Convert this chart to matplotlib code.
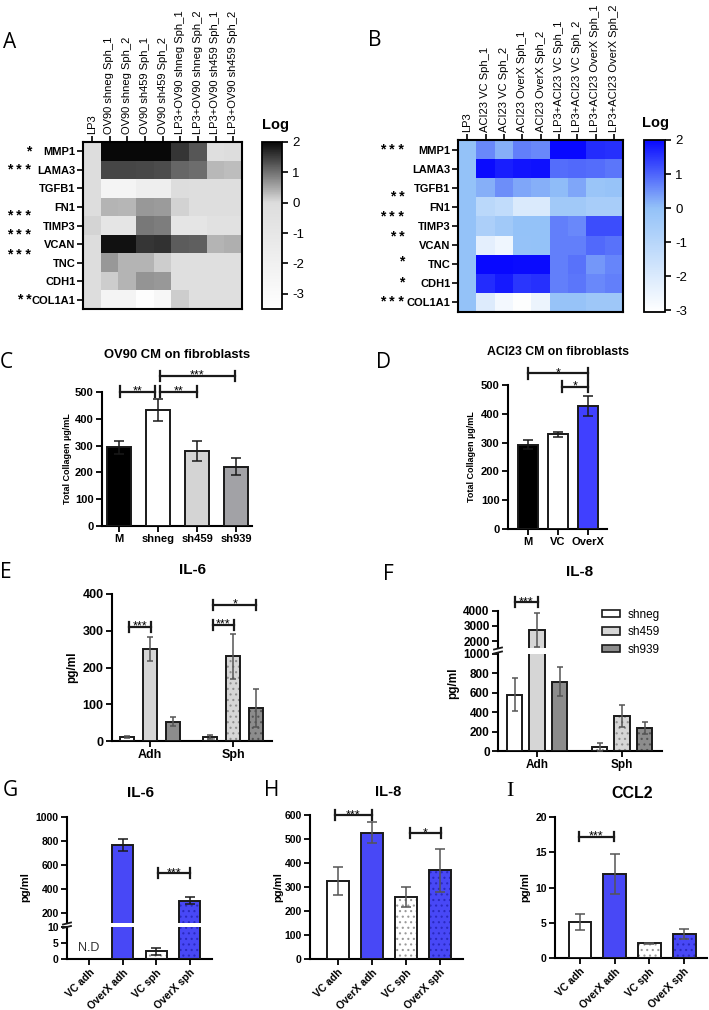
import numpy as np
import matplotlib
matplotlib.use("Agg")
import matplotlib.pyplot as plt
from matplotlib.colors import LinearSegmentedColormap
from matplotlib.patches import Patch
from matplotlib.lines import Line2D
from matplotlib.transforms import blended_transform_factory

plt.rcParams['font.family'] = ['Liberation Sans', 'DejaVu Sans']
plt.rcParams['font.weight'] = 'bold'
plt.rcParams['axes.unicode_minus'] = False
plt.rcParams['hatch.linewidth'] = 0.8

# ---------------- data ----------------
genes = ['MMP1', 'LAMA3', 'TGFB1', 'FN1', 'TIMP3', 'VCAN', 'TNC', 'CDH1', 'COL1A1']

cols_a = ['LP3', 'OV90 shneg Sph_1', 'OV90 shneg Sph_2', 'OV90 sh459 Sph_1', 'OV90 sh459 Sph_2',
          'LP3+OV90 shneg Sph_1', 'LP3+OV90 shneg Sph_2', 'LP3+OV90 sh459 Sph_1', 'LP3+OV90 sh459 Sph_2']
heat_a = [
    [0.0, 2.0, 2.0, 2.0, 2.0, 1.55, 1.25, -0.3, -0.1],
    [0.0, 1.4, 1.4, 1.38, 1.35, 1.1, 1.05, 0.33, 0.3],
    [0.0, -2.4, -2.4, -1.8, -1.8, -0.1, -0.2, -0.2, -0.2],
    [0.0, 0.38, 0.35, 0.63, 0.62, 0.1, -0.2, -0.2, -0.2],
    [0.07, -0.9, -0.9, 0.94, 0.9, -0.9, -0.9, -0.5, -0.5],
    [0.0, 1.9, 1.9, 1.55, 1.6, 1.2, 1.18, 0.38, 0.43],
    [0.0, 0.63, 0.38, 0.38, 0.14, -0.3, -0.3, -0.3, -0.3],
    [0.0, 0.14, 0.38, 0.67, 0.63, -0.3, -0.3, -0.3, -0.3],
    [0.0, -2.4, -2.4, -3.3, -2.7, 0.15, -0.3, -0.3, -0.3],
]
stars_a = [(0, '*'), (1, '* * *'), (3.5, '* * *'), (4.5, '* * *'), (5.6, '* * *'), (8, '* *')]

cols_b = ['LP3', 'ACI23 VC Sph_1', 'ACI23 VC Sph_2', 'ACI23 OverX Sph_1', 'ACI23 OverX Sph_2',
          'LP3+ACI23 VC Sph_1', 'LP3+ACI23 VC Sph_2', 'LP3+ACI23 OverX Sph_1', 'LP3+ACI23 OverX Sph_2']
heat_b = [
    [0.0, 0.6, 0.2, 0.7, 0.6, 2.0, 2.0, 1.6, 1.55],
    [0.0, 1.95, 1.75, 1.85, 1.9, 0.9, 0.95, 0.9, 0.8],
    [0.0, 0.2, 0.55, 0.3, 0.2, 0.05, 0.3, -0.2, -0.1],
    [0.0, -1.1, -1.3, -2.0, -2.0, -0.4, -0.4, -0.6, -0.6],
    [0.0, -0.7, -0.4, 0.0, 0.0, 0.7, 0.6, 1.25, 1.25],
    [0.0, -2.3, -2.6, -0.05, 0.0, 0.7, 0.7, 0.95, 0.85],
    [0.0, 2.0, 2.0, 1.95, 1.95, 0.7, 0.85, 0.45, 0.65],
    [0.0, 1.6, 1.8, 1.5, 1.55, 0.7, 0.8, 0.6, 0.7],
    [0.0, -2.1, -2.7, -3.0, -2.5, -0.1, -0.1, -0.3, -0.3],
]
stars_b = [(0, '* * *'), (2.5, '* *'), (3.55, '* * *'), (4.6, '* *'), (5.85, '*'), (6.95, '*'), (8, '* * *')]

c_groups = ['M', 'shneg', 'sh459', 'sh939']
c_vals = [293, 433, 281, 221]
c_err = [25, 42, 37, 32]

d_groups = ['M', 'VC', 'OverX']
d_vals = [293, 329, 427]
d_err = [16, 8, 34]

ef_groups = ['Adh', 'Sph']
ef_series = ['shneg', 'sh459', 'sh939']
e_vals = [[11, 11], [250, 230], [53, 90]]
e_err = [[3, 5], [33, 62], [13, 52]]
f_vals = [[580, 40], [2750, 360], [715, 240]]
f_err = [[170, 40], [1100, 110], [150, 60]]

ghi_groups = ['VC adh', 'OverX adh', 'VC sph', 'OverX sph']
g_vals = [np.nan, 765, 2.5, 300]
g_err = [0, 50, 1.1, 33]
h_vals = [325, 527, 258, 370]
h_err = [60, 43, 43, 90]
i_vals = [5.1, 11.9, 2.1, 3.4]
i_err = [1.1, 2.85, 0.05, 0.7]

# ---------------- figure ----------------
W, H = 709, 1010
fig = plt.figure(figsize=(W / 100, H / 100), dpi=100)
EDGE = '#1a1a1a'
BLUE = '#4848f6'


def pax(l, t, r, b):
    return fig.add_axes([l / W, 1 - b / H, (r - l) / W, (b - t) / H])


def ftext(x, y, s, **kw):
    fig.text(x / W, 1 - y / H, s, **kw)


def heatmap(ax, cax, data, cols, cmap, vmin, vmax, stars):
    im = ax.imshow(np.array(data), cmap=cmap, vmin=vmin, vmax=vmax, aspect='auto',
                   interpolation='nearest')
    ax.xaxis.tick_top()
    ax.set_xticks(range(len(cols)))
    ax.set_xticklabels(cols, rotation=90, fontsize=8, fontweight='normal')
    ax.set_yticks(range(len(genes)))
    ax.set_yticklabels(genes, fontsize=8)
    ax.tick_params(length=4, width=1.2, pad=1.5)
    for s in ax.spines.values():
        s.set_linewidth(1.5)
    tr = blended_transform_factory(ax.transAxes, ax.transData)
    for row, st in stars:
        ax.text(-0.325, row, st, transform=tr, ha='right', va='center', fontsize=10)
    cb = fig.colorbar(im, cax=cax)
    cb.outline.set_linewidth(1.3)
    cax.set_yticks(range(-3, 3))
    cax.set_yticklabels([str(v) for v in range(-3, 3)], fontsize=9.5, fontweight='normal')
    cax.tick_params(length=4, width=1.2)


def style(ax, size):
    ax.spines['top'].set_visible(False)
    ax.spines['right'].set_visible(False)
    for s in ['left', 'bottom']:
        ax.spines[s].set_linewidth(1.5)
    ax.tick_params(length=4, width=1.3, labelsize=size, pad=2)


def bars(ax, xs, vals, errs, fcs, hatched, hcols, w, ecol, cap):
    for x, v, fc, h, hc in zip(xs, vals, fcs, hatched, hcols):
        if np.isnan(v):
            continue
        if h:
            ax.bar(x, v, w, color=fc, edgecolor=hc, hatch='...', linewidth=0, zorder=2)
            ax.bar(x, v, w, fill=False, edgecolor=EDGE, linewidth=1.4, zorder=3)
        else:
            ax.bar(x, v, w, color=fc, edgecolor=EDGE, linewidth=1.4, zorder=3)
    ok = [i for i, v in enumerate(vals) if not np.isnan(v)]
    ax.errorbar([xs[i] for i in ok], [vals[i] for i in ok], yerr=[errs[i] for i in ok],
                fmt='none', ecolor=ecol, elinewidth=1.1, capsize=cap, capthick=1.1, zorder=4)


def bracket(ax, x1, x2, y, d, txt, size=9):
    ax.plot([x1, x2], [y, y], color=EDGE, lw=1.6, clip_on=False, zorder=5)
    for x in (x1, x2):
        ax.plot([x, x], [y - d, y + d], color=EDGE, lw=1.6, clip_on=False, zorder=5)
    ax.text((x1 + x2) / 2, y, txt, ha='center', va='center', fontsize=size,
            fontweight='normal', clip_on=False)


def break_marks(x, y1, y2):
    for y in (y1, y2):
        fig.add_artist(Line2D([(x - 4) / W, (x + 4) / W], [1 - (y + 1) / H, 1 - (y - 1) / H],
                              transform=fig.transFigure, color=EDGE, lw=1.3))


# ---- A ----
cmap_a = LinearSegmentedColormap.from_list('ga', [(0, 'white'), (3.5 / 5.5, '#dddddd'), (1, '#080808')])
axA = pax(83, 142, 242, 309)
caxA = pax(262, 142, 282, 309)
heatmap(axA, caxA, heat_a, cols_a, cmap_a, -3.5, 2, stars_a)
ftext(262, 125, 'Log', fontsize=10.5, va='center')

# ---- B ----
cmap_b = LinearSegmentedColormap.from_list('gb', [(0, 'white'), (3.05 / 5.05, '#94c2f8'), (1, '#0808ff')])
axB = pax(458, 140, 623, 312)
caxB = pax(644, 140, 665, 312)
heatmap(axB, caxB, heat_b, cols_b, cmap_b, -3.05, 2, stars_b)
ftext(642, 123, 'Log', fontsize=10.5, va='center')

# ---- C ----
axC = pax(102, 392, 252, 526)
xc = np.arange(len(c_groups))
bars(axC, xc, c_vals, c_err, ['black', 'white', '#d4d4d4', '#a2a2a6'], [False] * 4,
     [None] * 4, 0.62, EDGE, 3.5)
axC.set_xlim(-0.44, 3.41)
axC.set_ylim(0, 500)
axC.set_yticks(range(0, 501, 100))
axC.set_xticks(xc)
axC.set_xticklabels(c_groups)
style(axC, 8)
bracket(axC, 0.03, 0.92, 501, 20, '**')
bracket(axC, 1.05, 2.0, 501, 20, '**')
bracket(axC, 1.05, 2.97, 560, 20, '***')
ftext(177, 355, 'OV90 CM on fibroblasts', fontsize=9.4, ha='center', va='center')
ftext(68, 459, 'Total Collagen µg/mL', fontsize=6.5, rotation=90, ha='center', va='center')

# ---- D ----
axD = pax(508, 385, 607, 529)
xd = np.arange(len(d_groups))
bars(axD, xd, d_vals, d_err, ['black', 'white', '#4040ff'], [False] * 3, [None] * 3, 0.66, EDGE, 3.5)
axD.set_xlim(-0.67, 2.63)
axD.set_ylim(0, 500)
axD.set_yticks(range(0, 501, 100))
axD.set_xticks(xd)
axD.set_xticklabels(d_groups)
style(axD, 8)
bracket(axD, 0, 2, 540, 20, '*')
bracket(axD, 1.13, 2, 494, 20, '*')
ftext(558, 352, 'ACI23 CM on fibroblasts', fontsize=8.8, ha='center', va='center')
ftext(472, 457, 'Total Collagen µg/mL', fontsize=6.5, rotation=90, ha='center', va='center')

# ---- E ----
grey_fc = ['white', '#d6d6d6', '#8c8c8c']
grey_hc = ['#9a9a9a', '#909090', '#555555']
off = [-0.277, 0, 0.277]
axE = pax(112, 594, 272, 741)
for k in range(3):
    xs = [g + off[k] for g in range(2)]
    bars(axE, xs, e_vals[k], e_err[k], [grey_fc[k]] * 2, [False, True], [grey_hc[k]] * 2,
         0.17, '#555555', 2.5)
axE.set_xlim(-0.46, 1.47)
axE.set_ylim(0, 400)
axE.set_yticks(range(0, 401, 100))
axE.set_xticks(range(2))
axE.set_xticklabels(ef_groups)
style(axE, 9)
bracket(axE, -0.25, 0.01, 311, 14, '***')
bracket(axE, 0.76, 1.01, 316, 14, '***')
bracket(axE, 0.76, 1.28, 371, 14, '*')
ftext(192, 570, 'IL-6', fontsize=11, ha='center', va='center')
ftext(72, 667, 'pg/ml', fontsize=8.5, rotation=90, ha='center', va='center')

# ---- F (broken axis) ----
axFu = pax(498, 610.7, 662, 648)
axFl = pax(498, 654, 662, 751)
off_f = [-0.265, 0, 0.265]
for ax in (axFu, axFl):
    for k in range(3):
        xs = [g + off_f[k] for g in range(2)]
        bars(ax, xs, f_vals[k], f_err[k], [grey_fc[k]] * 2, [False, True], [grey_hc[k]] * 2,
             0.18, '#555555', 2.5)
    ax.set_xlim(-0.46, 1.47)
axFl.set_ylim(0, 1000)
axFl.set_yticks(range(0, 1001, 200))
axFl.set_xticks(range(2))
axFl.set_xticklabels(ef_groups)
style(axFl, 8.5)
axFu.set_ylim(1560, 4000)
axFu.set_yticks([2000, 3000, 4000])
style(axFu, 8.5)
axFu.spines['bottom'].set_visible(False)
axFu.set_xticks([])
break_marks(498, 648.5, 652.5)
bracket(axFu, -0.26, 0.01, 4570, 330, '***')
ftext(580, 572, 'IL-8', fontsize=11, ha='center', va='center')
ftext(453, 683, 'pg/ml', fontsize=8.5, rotation=90, ha='center', va='center')
handles = [Patch(facecolor=c, edgecolor=EDGE, linewidth=1.2) for c in grey_fc]
fig.legend(handles, ef_series, loc='upper left', bbox_to_anchor=(596 / W, 1 - 603 / H),
           frameon=False, handlelength=1.5, handleheight=0.6, labelspacing=0.45,
           handletextpad=0.7, borderpad=0, prop={'weight': 'normal', 'size': 8.5})

# ---- G (broken axis) ----
ghi_fc = ['white', BLUE, 'white', BLUE]
ghi_hatch = [False, False, True, True]
ghi_hc = ['#9a9a9a', '#2a2ac0', '#9a9a9a', '#2a2ac0']
axGu = pax(67, 816.7, 212, 923.3)
axGl = pax(67, 927.3, 212, 959)
xg = np.arange(4)
for ax in (axGu, axGl):
    bars(ax, xg, g_vals, g_err, ghi_fc, ghi_hatch, ghi_hc, 0.63, EDGE, 3.5)
    ax.set_xlim(-0.66, 3.67)
axGu.set_ylim(110, 1000)
axGu.set_yticks(range(200, 1001, 200))
style(axGu, 7.5)
axGu.spines['bottom'].set_visible(False)
axGu.set_xticks([])
axGl.set_ylim(0, 10)
axGl.set_yticks([0, 5, 10])
axGl.set_xticks(xg)
axGl.set_xticklabels(ghi_groups, rotation=45, ha='right', rotation_mode='anchor')
style(axGl, 7.5)
break_marks(67, 923.5, 927)
axGl.text(0, 3.5, 'N.D', ha='center', va='center', fontsize=9, fontweight='normal', color='#333333')
bracket(axGu, 2.06, 3.01, 530, 40, '***')
ftext(140, 793, 'IL-6', fontsize=11, ha='center', va='center')
ftext(25, 887, 'pg/ml', fontsize=8, rotation=90, ha='center', va='center')

# ---- H ----
axH = pax(310, 815, 463, 959)
bars(axH, xg, h_vals, h_err, ghi_fc, ghi_hatch, ghi_hc, 0.63, '#555555', 3.5)
axH.set_xlim(-0.82, 3.68)
axH.set_ylim(0, 600)
axH.set_yticks(range(0, 601, 100))
axH.set_xticks(xg)
axH.set_xticklabels(ghi_groups, rotation=45, ha='right', rotation_mode='anchor')
style(axH, 7.5)
bracket(axH, -0.09, 1.0, 600, 20, '***')
bracket(axH, 2.12, 3.03, 524, 20, '*')
ftext(388, 792, 'IL-8', fontsize=10.5, ha='center', va='center')
ftext(278, 887, 'pg/ml', fontsize=8, rotation=90, ha='center', va='center')

# ---- I ----
axI = pax(555, 816.7, 707, 958.3)
bars(axI, xg, i_vals, i_err, ghi_fc, ghi_hatch, ghi_hc, 0.66, '#555555', 3.5)
axI.set_xlim(-0.72, 3.66)
axI.set_ylim(0, 20)
axI.set_yticks(range(0, 21, 5))
axI.set_xticks(xg)
axI.set_xticklabels(ghi_groups, rotation=45, ha='right', rotation_mode='anchor')
style(axI, 7.5)
bracket(axI, -0.03, 0.98, 17.2, 0.7, '***')
ftext(632, 793, 'CCL2', fontsize=11.5, ha='center', va='center')
ftext(525, 887, 'pg/ml', fontsize=8, rotation=90, ha='center', va='center')

# ---- panel letters ----
letters = [('A', 3, 42), ('B', 368, 40), ('C', 0, 363), ('D', 376, 363), ('E', 0, 573),
           ('F', 383, 575), ('G', 3, 790), ('H', 264, 790)]
for s, x, y in letters:
    ftext(x, y, s, fontsize=15, fontweight='normal', family='Open Sans', va='center')
ftext(506, 792, 'I', fontsize=16, fontweight='normal', family='Liberation Serif', va='center')

fig.savefig('out.png', dpi=100)
